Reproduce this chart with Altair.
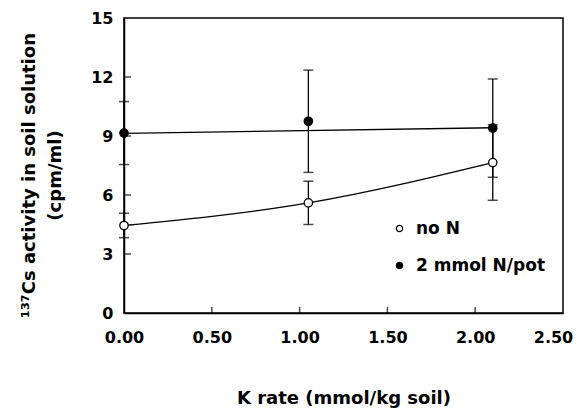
import altair as alt
import pandas as pd

# ---- data ----
k_rate = [0.0, 1.05, 2.1]
no_n = [4.45, 5.6, 7.65]
no_n_err = [0.62, 1.1, 1.92]
with_n = [9.15, 9.75, 9.4]
with_n_err = [1.6, 2.6, 2.5]
series_names = ["no N", "2 mmol N/pot"]

# straight fitted line for the 2 mmol N series (end points)
trend_x = [0.0, 2.1]
trend_y = [9.13, 9.42]

x_ticks = [0.0, 0.5, 1.0, 1.5, 2.0, 2.5]
y_ticks = [0, 3, 6, 9, 12, 15]
x_inner = [0.5, 1.0, 1.5, 2.0]
y_inner = [3, 6, 9, 12]

W, H = 439, 295
FONT = "DejaVu Sans"

rows = []
for x, v, e in zip(k_rate, no_n, no_n_err):
    rows.append({"x": x, "y": v, "lo": v - e, "hi": v + e, "series": series_names[0]})
for x, v, e in zip(k_rate, with_n, with_n_err):
    rows.append({"x": x, "y": v, "lo": v - e, "hi": v + e, "series": series_names[1]})
df = pd.DataFrame(rows)
df_non = df[df.series == series_names[0]]
trend_df = pd.DataFrame({"x": trend_x, "y": trend_y})

xscale = alt.Scale(domain=[0, 2.5], nice=False, zero=False)
yscale = alt.Scale(domain=[0, 15], nice=False)

X = alt.X("x:Q", scale=xscale,
          axis=alt.Axis(values=x_ticks, format=".2f", title="K rate (mmol/kg soil)",
                        tickSize=0, labelPadding=16, titlePadding=44, grid=False,
                        labelFlush=False,
                        labelOffset={"condition": {"test": "datum.value >= 2.5", "value": -10},
                                     "value": 0}))
Y = alt.Y("y:Q", scale=yscale,
          axis=alt.Axis(values=y_ticks, format="d",
                        title=["¹³⁷Cs activity in soil solution", "(cpm/ml)"],
                        tickSize=0, labelPadding=11, titlePadding=26, grid=False,
                        titleLineHeight=26, titleY=157))

base = alt.Chart(df)

err_rule = base.mark_rule(color="black", strokeWidth=1.3).encode(
    x=alt.X("x:Q", scale=xscale), y=alt.Y("lo:Q", scale=yscale), y2="hi:Q")
cap_lo = base.mark_tick(color="black", size=10, thickness=1.5, orient="horizontal").encode(
    x=alt.X("x:Q", scale=xscale), y=alt.Y("lo:Q", scale=yscale))
cap_hi = base.mark_tick(color="black", size=10, thickness=1.5, orient="horizontal").encode(
    x=alt.X("x:Q", scale=xscale), y=alt.Y("hi:Q", scale=yscale))

curve = alt.Chart(df_non).mark_line(color="black", strokeWidth=1.3, interpolate="natural").encode(
    x=X, y=Y)
trend = alt.Chart(trend_df).mark_line(color="black", strokeWidth=1.3).encode(
    x=alt.X("x:Q", scale=xscale), y=alt.Y("y:Q", scale=yscale))

points = base.mark_point(filled=True, stroke="black", strokeWidth=1.3, size=70, opacity=1).encode(
    x=alt.X("x:Q", scale=xscale), y=alt.Y("y:Q", scale=yscale),
    fill=alt.Fill("series:N",
                  scale=alt.Scale(domain=series_names, range=["white", "black"]),
                  legend=alt.Legend(title=None, orient="none", legendX=267, legendY=202,
                                    symbolType="circle", symbolSize=40,
                                    symbolStrokeColor="black", symbolStrokeWidth=1.2,
                                    labelFont=FONT, labelFontSize=17, labelFontWeight="bold",
                                    labelColor="black", labelOffset=8, rowPadding=19,
                                    padding=0)))

xin = alt.Chart(pd.DataFrame({"x": x_inner})).mark_tick(
    color="black", size=6, thickness=1.5, orient="vertical").encode(
    x=alt.X("x:Q", scale=xscale), y=alt.value(H - 3))
yin = alt.Chart(pd.DataFrame({"y": y_inner})).mark_tick(
    color="black", size=7, thickness=1.5, orient="horizontal").encode(
    y=alt.Y("y:Q", scale=yscale), x=alt.value(3.5))

chart = alt.layer(curve, trend, err_rule, cap_lo, cap_hi, xin, yin, points).properties(
    width=W, height=H,
    autosize=alt.AutoSizeParams(type="none"),
    padding={"left": 116, "top": 10, "right": 13, "bottom": 97},
    background="white",
).configure_view(
    stroke="black", strokeWidth=1.5
).configure_axis(
    domainColor="black", domainWidth=1.5,
    labelFont=FONT, labelFontSize=16, labelFontWeight="bold", labelColor="black",
    titleFont=FONT, titleFontSize=18, titleFontWeight="bold", titleColor="black",
)

chart.save("out.html", embed_options={"renderer": "svg", "actions": False})
